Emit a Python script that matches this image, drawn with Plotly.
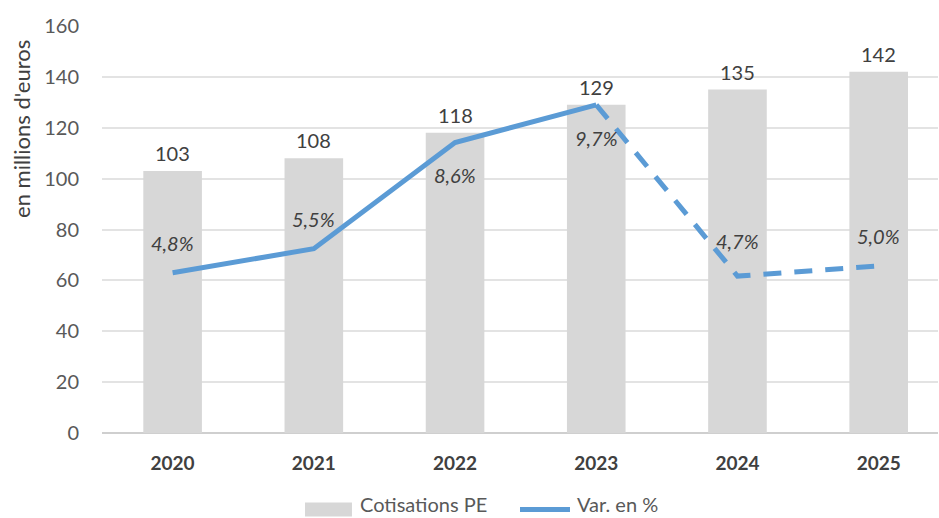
import plotly.graph_objects as go

# Data
years = ["2020", "2021", "2022", "2023", "2024", "2025"]
cotisations = [103, 108, 118, 129, 135, 142]          # en millions d'euros
variation = [4.8, 5.5, 8.6, 9.7, 4.7, 5.0]            # variation annuelle en %
y_ticks = [0, 20, 40, 60, 80, 100, 120, 140, 160]

FONT = "Lato, Carlito, Calibri, sans-serif"
BAR_COLOR = "#d7d7d7"
LINE_COLOR = "#5b9bd5"
TEXT_COLOR = "#404040"

fig = go.Figure()

fig.add_trace(go.Bar(
    x=years, y=cotisations, name="Cotisations PE",
    marker=dict(color=BAR_COLOR, line=dict(width=0)),
    showlegend=False,
))

# Observed years: solid line; forecast years: dashed line
fig.add_trace(go.Scatter(
    x=years[:4], y=variation[:4], yaxis="y2", mode="lines",
    line=dict(color=LINE_COLOR, width=5), showlegend=False,
))
fig.add_trace(go.Scatter(
    x=years[3:], y=variation[3:], yaxis="y2", mode="lines",
    line=dict(color=LINE_COLOR, width=5, dash="18px,13px"), showlegend=False,
))

annotations = []
# value labels above bars (category index used as x position)
for i, v in enumerate(cotisations):
    annotations.append(dict(
        x=i, y=v, xref="x", yref="y", text=str(v), showarrow=False,
        yshift=18, font=dict(family=FONT, size=20, color=TEXT_COLOR),
    ))
# percentage labels next to the line
pct_shift = [30, 30, -33, -33, 35, 30]
for i, (v, s) in enumerate(zip(variation, pct_shift)):
    annotations.append(dict(
        x=i, y=v, xref="x", yref="y2", text=f"<i>{v:.1f}%</i>".replace(".", ","),
        showarrow=False, yshift=s, font=dict(family=FONT, size=20, color=TEXT_COLOR),
    ))

# axis title
annotations.append(dict(
    x=-0.0957, y=0.747, xref="paper", yref="paper", text="en millions d'euros",
    xanchor="center", yanchor="middle",
    textangle=-90, showarrow=False, font=dict(family=FONT, size=22, color=TEXT_COLOR),
))

# legend drawn by hand
annotations.append(dict(
    x=0.3062, y=-0.2088, xref="paper", yref="paper", text="Cotisations PE",
    xanchor="left", yanchor="bottom", showarrow=False,
    font=dict(family=FONT, size=20, color="#595959"),
))
annotations.append(dict(
    x=0.5658, y=-0.2088, xref="paper", yref="paper", text="Var. en %",
    xanchor="left", yanchor="bottom", showarrow=False,
    font=dict(family=FONT, size=20, color="#595959"),
))
shapes = [
    dict(type="rect", xref="paper", yref="paper", x0=0.2428, x1=0.2990,
         y0=-0.205, y1=-0.171, fillcolor=BAR_COLOR, line=dict(width=0)),
    dict(type="line", xref="paper", yref="paper", x0=0.5, x1=0.5598,
         y0=-0.188, y1=-0.188, line=dict(color=LINE_COLOR, width=5)),
]

fig.update_layout(
    width=939, height=518,
    margin=dict(l=102, r=1, t=26, b=85),
    paper_bgcolor="white", plot_bgcolor="white",
    bargap=0.585,
    font=dict(family=FONT, size=18, color="#595959"),
    xaxis=dict(
        type="category", range=[-0.5, 5.42],
        tickfont=dict(family=FONT, size=19, color=TEXT_COLOR),
        ticks="outside", ticklen=13, tickcolor="rgba(0,0,0,0)",
        showgrid=False, showline=False, zeroline=False,
        tickprefix="<b>", ticksuffix="</b>",
    ),
    yaxis=dict(
        range=[0, 160], tickvals=y_ticks,
        tickfont=dict(family=FONT, size=20, color="#595959"),
        ticks="outside", ticklen=18, tickcolor="rgba(0,0,0,0)",
        showgrid=True, gridcolor="#e3e3e3", gridwidth=2,
        zeroline=True, zerolinecolor="#cfcfcf", zerolinewidth=2,
        showline=False,
    ),
    yaxis2=dict(
        overlaying="y", side="right", range=[0.12, 12.0], visible=False,
    ),
    annotations=annotations,
    shapes=shapes,
)

fig.write_html("out.html")
